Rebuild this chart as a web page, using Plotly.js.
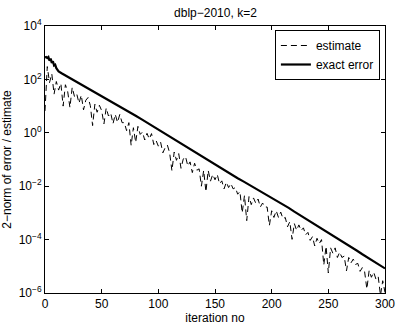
<!DOCTYPE html>
<html>
<head>
<meta charset="utf-8">
<script src="https://cdn.plot.ly/plotly-3.0.1.min.js"></script>
<style>
  html, body { margin: 0; padding: 0; background: #fff; }
  #chart { width: 399px; height: 326px; }
</style>
</head>
<body>
<div id="chart"></div>
<script>
// exact error, log10 values
const exactIter = [0, 1, 2, 3, 4, 5, 6, 7, 8, 9, 10, 12, 15, 20, 25, 30, 35, 40, 45, 50, 55, 60, 65, 70, 75, 80, 85, 90, 95, 100,
  105, 110, 115, 120, 125, 130, 135, 140, 145, 150, 155, 160, 165, 170, 175, 180, 185, 190, 195, 200,
  205, 210, 215, 220, 225, 230, 235, 240, 245, 250, 255, 260, 265, 270, 275, 280, 285, 290, 295, 300];
const exactLog10 = [2.82, 2.84, 2.80, 2.84, 2.70, 2.78, 2.62, 2.68, 2.52, 2.55, 2.42, 2.30, 2.22, 2.10, 1.98, 1.86, 1.74, 1.62, 1.50, 1.38,
  1.26, 1.14, 1.02, 0.89, 0.76, 0.64, 0.51, 0.38, 0.24, 0.11,
  -0.03, -0.16, -0.30, -0.43, -0.56, -0.69, -0.82, -0.95, -1.08, -1.21, -1.33, -1.45, -1.57, -1.70, -1.82, -1.94, -2.06, -2.18, -2.30, -2.42,
  -2.55, -2.68, -2.81, -2.95, -3.08, -3.22, -3.36, -3.49, -3.62, -3.75, -3.89, -4.02, -4.15, -4.28, -4.41, -4.55, -4.68, -4.82, -4.96, -5.08];

// estimate, log10 values at iterations 0, 2, 4, ..., 300
const estimateLog10 = [0.82, 2.48, 1.88, 2.21, 1.45, 1.92, 1.60, 1.85, 1.00, 1.80,
  1.55, 0.95, 1.70, 1.36, 1.46, 1.11, 1.41, 0.86, 1.22, 1.32,
  1.02, 0.27, 1.07, 0.77, 1.03, 0.83, 0.33, 0.93, 0.63, 0.74,
  0.34, 0.69, 0.39, 0.69, 0.38, 0.38, 0.08, 0.38, -0.47, 0.19,
  -0.36, 0.24, -0.06, 0.03, -0.27, -0.02, -0.23, -0.03, -0.44, -0.29,
  -0.50, -0.35, -0.75, -0.56, -0.46, -0.76, -1.42, -0.72, -1.03, -0.78,
  -1.33, -0.98, -0.89, -1.24, -1.09, -1.49, -1.14, -1.40, -1.35, -2.00,
  -1.41, -2.21, -1.41, -1.81, -1.56, -1.76, -1.56, -1.91, -1.80, -2.10,
  -1.85, -2.05, -1.90, -2.10, -2.05, -2.30, -2.20, -3.00, -2.35, -3.29,
  -2.39, -2.69, -2.44, -2.64, -2.48, -2.78, -2.63, -2.78, -2.78, -3.47,
  -2.92, -3.17, -2.92, -3.17, -2.97, -3.22, -3.17, -3.52, -3.33, -3.99,
  -3.40, -3.65, -3.45, -3.66, -3.56, -3.82, -3.73, -4.03, -3.89, -4.24,
  -3.95, -4.15, -4.00, -4.95, -4.25, -5.25, -4.31, -4.51, -4.31, -4.67,
  -4.47, -4.67, -4.62, -5.17, -4.67, -4.87, -4.73, -4.93, -4.89, -5.19,
  -5.05, -5.20, -5.85, -5.16, -5.41, -5.22, -5.48, -5.38, -6.09, -5.54,
  -5.98];

const xTicks = [0, 50, 100, 150, 200, 250, 300];
const yTickExp = [-6, -4, -2, 0, 2, 4];

const font = 'Liberation Sans, Arial, Helvetica, sans-serif';
const toVal = (v) => Math.pow(10, v);

const estimate = {
  x0: 0,
  dx: 2,
  y: estimateLog10.map(toVal),
  name: 'estimate',
  mode: 'lines',
  line: { color: '#000', width: 1, dash: '6px,4px' }
};
const exact = {
  x: exactIter,
  y: exactLog10.map(toVal),
  name: 'exact error',
  mode: 'lines',
  line: { color: '#000', width: 2.2 }
};

const axisBase = {
  showline: true,
  linecolor: '#000',
  linewidth: 1,
  mirror: 'ticks',
  ticks: 'inside',
  ticklen: 4,
  tickcolor: '#000',
  showgrid: false,
  zeroline: false,
  tickfont: { family: font, size: 12, color: '#000' }
};

const layout = {
  width: 399,
  height: 326,
  margin: { t: 26, l: 45, r: 14, b: 33 },
  paper_bgcolor: '#fff',
  plot_bgcolor: '#fff',
  font: { family: font, size: 12, color: '#000' },
  title: { text: 'dblp\u22122010, k=2', font: { family: font, size: 12, color: '#000' }, x: 0.54, xanchor: 'center', y: 0.975, yanchor: 'top' },
  xaxis: {
    ...axisBase,
    range: [0, 300],
    tickvals: xTicks,
    ticktext: xTicks.map(String),
    title: { text: 'iteration no', font: { family: font, size: 12 }, standoff: 1 }
  },
  yaxis: {
    ...axisBase,
    type: 'log',
    range: [-6, 4],
    tickvals: yTickExp.map(toVal),
    ticktext: yTickExp.map((e) => '10<sup>' + (e < 0 ? '\u2212' + -e : e) + '</sup>'),
    title: { text: '2\u2212norm of error / estimate', font: { family: font, size: 12 }, standoff: 4 }
  },
  showlegend: true,
  legend: {
    x: 0.985,
    y: 0.985,
    xanchor: 'right',
    yanchor: 'top',
    bgcolor: '#fff',
    bordercolor: '#000',
    borderwidth: 1,
    font: { family: font, size: 12, color: '#000' },
    tracegroupgap: 0,
    itemwidth: 30
  }
};

Plotly.newPlot('chart', [estimate, exact], layout, { displayModeBar: false, staticPlot: true });
</script>
</body>
</html>
